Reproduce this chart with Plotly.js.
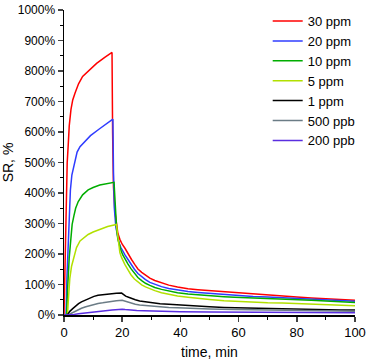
<!DOCTYPE html>
<html>
<head>
<meta charset="utf-8">
<script src="https://cdn.plot.ly/plotly-3.0.1.min.js"></script>
<style>
  html, body { margin: 0; padding: 0; background: #fff; }
  #chart { width: 367px; height: 360px; }
</style>
</head>
<body>
<div id="chart"></div>
<script>
// SR response vs time for each concentration
const names = ['30 ppm', '20 ppm', '10 ppm', '5 ppm', '1 ppm', '500 ppb', '200 ppb'];
const colors = ['#ff0000', '#2f3cff', '#00ad00', '#b2e000', '#000000', '#6b7c86', '#5a2ee0'];

const t30 = [0, 0.2, 0.5, 0.8, 1.1, 1.5, 1.8, 2.4, 3, 3.8, 5, 6.4, 8.7, 11.2, 14, 16.5,
             16.7, 17, 17.5, 18, 18.5, 19.2, 20, 21, 22, 23.2, 24.3, 25.4, 26.7, 28, 29.5, 31.2, 33.5, 36, 39, 42.6, 46, 50, 55, 58.6, 65, 70, 75, 80, 85, 90, 95, 100];
const sr30 = [0, 100, 260, 400, 500, 566, 620, 674, 705, 728, 758, 782, 804, 825, 845, 861,
              600, 420, 340, 295, 268, 248, 232, 218, 200, 182, 166, 151, 140, 130, 121, 113, 105, 98, 92, 86, 83, 80, 76, 73, 68, 65, 62, 59, 56, 53, 50, 48];

const t20 = [0, 0.7, 1, 1.2, 1.4, 1.8, 2.2, 2.7, 3.6, 4.5, 5.5, 6.7, 9.1, 12, 14.5, 16.8,
             17, 17.3, 17.8, 18.3, 18.8, 19.5, 20.2, 20.9, 22, 23, 24.2, 25.4, 26.7, 28, 29.5, 31.2, 33.5, 36, 39, 42.6, 46, 50, 55, 58.6, 65, 70, 75, 80, 85, 90, 95, 100];
const sr20 = [0, 0, 120, 178, 243, 350, 410, 459, 502, 534, 552, 565, 588, 609, 627, 642,
              470, 350, 290, 258, 240, 222, 208, 198, 182, 166, 150, 136, 125, 116, 107, 100, 93, 87, 82, 77, 74, 71, 67, 65, 61, 59, 57, 55, 52, 50, 47, 45];

const t10 = [0, 0.9, 1.2, 1.5, 1.8, 2.3, 2.8, 3.4, 4, 4.9, 6.4, 8.3, 10, 12.3, 15, 17.2,
             17.4, 17.7, 18.1, 18.5, 19, 19.5, 20.2, 20.9, 22, 23, 24.2, 25.4, 26.7, 28, 29.5, 31.2, 33.5, 36, 39, 42.6, 46, 50, 55, 58.6, 65, 70, 75, 80, 85, 90, 95, 100];
const sr10 = [0, 0, 80, 140, 189, 243, 297, 325, 350, 372, 394, 410, 418, 426, 431, 435,
              400, 330, 280, 250, 230, 214, 197, 184, 167, 152, 136, 123, 113, 104, 97, 90, 84, 78, 73, 69, 66, 63, 60, 58, 55, 53, 52, 50, 48, 46, 43, 41];

const t5 = [0, 1.2, 1.5, 2, 2.6, 3.4, 4.3, 5.5, 7, 8.3, 10, 12.3, 15, 18,
            18.3, 18.7, 19.2, 19.8, 20.4, 20.9, 22, 23, 24.2, 25.4, 26.7, 28, 29.5, 31.2, 33.5, 36, 39, 42.6, 46, 50, 55, 58.6, 65, 70, 75, 80, 85, 90, 95, 100];
const sr5 = [0, 0, 50, 120, 160, 189, 221, 243, 256, 264, 272, 281, 290, 297,
             270, 235, 205, 188, 175, 166, 148, 132, 118, 108, 99, 92, 86, 80, 73, 67, 62, 58, 54, 51, 47, 45, 42, 40, 39, 37, 35, 33, 31, 30];

const t1 = [0, 1, 1.5, 2, 3, 4, 5, 6, 7.5, 9, 10.3, 11.7, 13.3, 15, 16.5, 18, 19.8,
            20.5, 21.2, 22.2, 23.2, 24.5, 26, 28, 30, 33, 36, 39, 42.6, 46, 50, 55, 58.6, 65, 70, 75, 80, 85, 90, 95, 100];
const sr1 = [0, 0, 5, 12, 21, 30, 37, 43, 50, 57, 61, 65, 67, 69, 70, 71, 72,
             67, 62, 58, 54, 50, 46, 43, 40, 37, 35, 33, 31, 29, 27, 25, 24, 22, 21, 20, 19, 18, 17, 16, 16];

const t500 = [0, 1.5, 2.2, 3, 4.5, 6, 7.5, 9, 10.3, 11.7, 13.3, 15, 16.5, 18, 20,
              20.7, 21.5, 22.3, 23.2, 24.5, 26, 28, 30, 33, 36, 39, 42.6, 50, 58.6, 70, 80, 90, 100];
const sr500 = [0, 0, 4, 8, 15, 22, 27, 31, 35, 38, 40, 43, 45, 47, 48,
               46, 43, 40, 38, 35, 33, 31, 29, 27, 25, 24, 22, 20, 18, 16, 14, 13, 12];

const t200 = [0, 2.6, 3.5, 5, 6.5, 8, 10, 11.7, 13.5, 15, 16.5, 18, 20,
              21, 22, 23.5, 25, 27.5, 30, 35, 40, 50, 60, 70, 80, 90, 100];
const sr200 = [0, 0, 2, 4, 6, 8, 10, 11, 13, 15, 16.5, 18, 19,
               18, 17, 16, 15, 14, 13, 12, 11, 10, 9, 8, 7, 7, 7];

const yTicks = [0, 100, 200, 300, 400, 500, 600, 700, 800, 900, 1000];

const times = [t30, t20, t10, t5, t1, t500, t200];
const values = [sr30, sr20, sr10, sr5, sr1, sr500, sr200];

const data = names.map((name, i) => ({
    x: times[i],
    y: values[i],
    name,
    type: 'scatter',
    mode: 'lines',
    line: { color: colors[i], width: 1.5 },
}));

const fam = 'Liberation Sans, Arial, sans-serif';

const layout = {
    width: 367,
    height: 360,
    margin: { l: 64, r: 12, t: 6, b: 45 },
    paper_bgcolor: '#fff',
    plot_bgcolor: '#fff',
    font: { family: fam, size: 13, color: '#000' },
    showlegend: true,
    legend: {
        x: 0.7,
        y: 1.013,
        xanchor: 'left',
        yanchor: 'top',
        bgcolor: 'rgba(0,0,0,0)',
        itemwidth: 30,
        font: { family: fam, size: 13, color: '#000' },
    },
    xaxis: {
        range: [0, 100],
        tickvals: [0, 20, 40, 60, 80, 100],
        ticks: 'outside',
        ticklen: 5,
        tickwidth: 1.5,
        showline: true,
        linecolor: '#000',
        linewidth: 1.5,
        showgrid: false,
        zeroline: false,
        tickfont: { family: fam, size: 13, color: '#000' },
        minor: { dtick: 10, ticks: 'outside', ticklen: 3, tickwidth: 1, tickcolor: '#000' },
        title: { text: 'time, min', font: { family: fam, size: 14, color: '#000' }, standoff: 8 },
    },
    yaxis: {
        range: [0, 1000.01],
        tickmode: 'array',
        tickvals: yTicks,
        ticktext: yTicks.map(v => v + '%'),
        ticklabeloverflow: 'allow',
        ticks: 'outside',
        ticklen: 5,
        tickwidth: 1.5,
        showline: true,
        linecolor: '#000',
        linewidth: 1.5,
        showgrid: false,
        zeroline: false,
        tickfont: { family: fam, size: 12, color: '#000' },
        minor: { dtick: 50, ticks: 'outside', ticklen: 3, tickwidth: 1, tickcolor: '#000' },
        title: { text: 'SR, %', font: { family: fam, size: 14, color: '#000' }, standoff: 6 },
    },
};

Plotly.newPlot('chart', data, layout, { displayModeBar: false, staticPlot: true });
</script>
</body>
</html>
